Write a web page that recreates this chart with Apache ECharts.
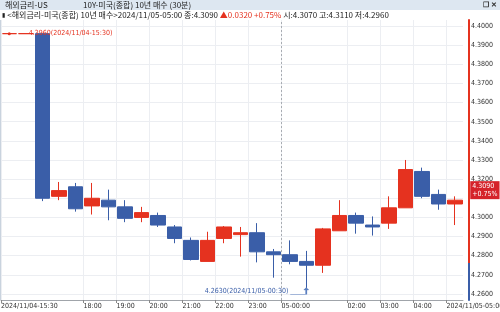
<!DOCTYPE html>
<html><head><meta charset="utf-8">
<script src="https://cdn.jsdelivr.net/npm/echarts@6/dist/echarts.min.js"></script>
<style>html,body{margin:0;padding:0;background:#fff}#c{width:500px;height:312px}</style>
</head><body><div id="c"></div>
<script>
// ---- data ----
const times = ['15:30','16:00','16:30','17:00','17:30','18:00','18:30','19:00','19:30','20:00','20:30','21:00','21:30','22:00','22:30','23:00','23:30','00:00','00:30','01:00','01:30','02:00','02:30','03:00','03:30','04:00','04:30','05:00'];
const days = ['2024/11/04','2024/11/05'];
const tickLabels = ['2024/11/04-15:30','','','','','18:00','','19:00','','20:00','','21:00','','22:00','','23:00','','05-00:00','','','','02:00','','03:00','','04:00','','2024/11/05-05:00'];
const open  = [4.3960,4.3960,4.3960,4.3110,4.3160,4.3060,4.3090,4.3055,4.3000,4.3010,4.2950,4.2880,4.2770,4.2890,4.2910,4.2920,4.2820,4.2805,4.2770,4.2750,4.2930,4.3010,4.2960,4.2970,4.3050,4.3240,4.3120,4.3070];
const close = [4.3960,4.3960,4.3100,4.3140,4.3045,4.3100,4.3055,4.2995,4.3025,4.2960,4.2890,4.2780,4.2880,4.2950,4.2920,4.2820,4.2805,4.2770,4.2750,4.2940,4.3010,4.2970,4.2950,4.3050,4.3250,4.3110,4.3070,4.3090];
const low   = [4.3960,4.3960,4.3085,4.3090,4.3030,4.3015,4.2985,4.2975,4.2975,4.2950,4.2865,4.2775,4.2770,4.2865,4.2795,4.2765,4.2685,4.2755,4.2630,4.2710,4.2930,4.2915,4.2905,4.2940,4.3050,4.3100,4.3040,4.2960];
const high  = [4.3960,4.3960,4.3960,4.3185,4.3180,4.3180,4.3145,4.3090,4.3055,4.3025,4.2960,4.2895,4.2925,4.2955,4.2950,4.2970,4.2835,4.2880,4.2825,4.2945,4.3090,4.3025,4.3005,4.3110,4.3300,4.3260,4.3145,4.3110];
const prevClose = 4.2770;
const yTicks = [4.26,4.27,4.28,4.29,4.30,4.31,4.32,4.33,4.34,4.35,4.36,4.37,4.38,4.39,4.40];

// ---- derived ----
const UP = '#e5321f', DOWN = '#3a5ea8';
const dayIdx = times.indexOf('00:00');
const fullTime = i => (i < dayIdx ? days[0] : days[1]) + '-' + times[i];
const candles = times.map((t,i)=>[open[i], close[i], low[i], high[i]]);
const last = times.length - 1;
const hiVal = Math.max(...high), hiIdx = high.indexOf(hiVal);
const loVal = Math.min(...low), loIdx = low.indexOf(loVal);
const chg = close[last] - prevClose;
const pct = chg / prevClose * 100;
const tickPos = tickLabels.map((t,i)=>t?i:-1).filter(i=>i>=0);
const yLabelVals = yTicks.filter(v => Math.abs(v - close[last]) > 0.005);
const Y_MIN = 4.25684, Y_MAX = 4.40313;
const split = (Y_MAX - prevClose) / (Y_MAX - Y_MIN);
const NUM = "'Liberation Sans Narrow','DejaVu Sans Condensed','Liberation Sans',sans-serif";
const KR = "'Noto Sans CJK KR','Noto Sans',sans-serif";

const chart = echarts.init(document.getElementById('c'), null, {renderer:'canvas'});
chart.setOption({
  animation:false,
  backgroundColor:'#fff',
  graphic:[
    {type:'rect', left:0, top:0, shape:{width:500,height:10}, style:{fill:'#dde7f1'}, z:-1},
    {type:'rect', left:0, top:20, shape:{width:1,height:280}, style:{fill:'#c9d3de'}, z:-1}
  ],
  title:[
    {text:'해외금리-US', left:5, top:0, padding:0, textStyle:{fontSize:8, fontWeight:'normal', color:'#222', fontFamily:KR, lineHeight:10}},
    {text:'10Y-미국(종합) 10년 매수 (30분)', left:83, top:0, padding:0, textStyle:{fontSize:8, fontWeight:'normal', color:'#222', fontFamily:KR, lineHeight:10}},
    {text:'❐ ✕', right:3, top:0, padding:0, textStyle:{fontSize:7, fontWeight:'bold', color:'#333', lineHeight:10}},
    {text:'{b|▮} {t|<해외금리-미국(종합) 10년 매수>' + fullTime(last) + ' 종:' + close[last].toFixed(4) + ' }{r|▲' + chg.toFixed(4) + ' +' + pct.toFixed(2) + '%}{t| 시:' + open[last].toFixed(4) + ' 고:' + high[last].toFixed(4) + ' 저:' + low[last].toFixed(4) + '}',
     left:2, top:10, padding:0,
     textStyle:{fontSize:8, fontWeight:'normal', lineHeight:10,
       rich:{b:{fontSize:6,color:'#222',fontFamily:KR}, t:{fontSize:8,color:'#222',fontFamily:KR}, r:{fontSize:8,color:UP,fontFamily:KR}}}}
  ],
  grid:{left:1, right:37, top:20, bottom:12, containLabel:false, outerBoundsMode:'none'},
  xAxis:[
    {type:'category', data:times, boundaryGap:true, show:false},
    {type:'value', min:0, max:times.length, position:'bottom',
     axisLine:{show:true, onZero:false, lineStyle:{color:'#a0a4aa', width:1}},
     axisTick:{show:true, customValues:tickPos, length:3, lineStyle:{color:'#888'}},
     axisLabel:{customValues:tickPos, formatter:v=>tickLabels[v]||'', align:'left', margin:3, fontSize:7, color:'#333', fontFamily:NUM, hideOverlap:false},
     splitLine:{show:true, lineStyle:{color:'#eceef2', width:1}}}
  ],
  yAxis:{type:'value', position:'right', offset:6, min:Y_MIN, max:Y_MAX,
    axisLine:{show:true, onZero:false, lineStyle:{width:2, color:{type:'linear',x:0,y:0,x2:0,y2:1,colorStops:[
      {offset:0,color:UP},{offset:split,color:UP},{offset:split,color:DOWN},{offset:1,color:DOWN}]}}},
    axisTick:{show:false, customValues:yTicks},
    axisLabel:{customValues:yLabelVals, formatter:v=>v.toFixed(4), margin:2, fontSize:7, color:'#333', fontFamily:NUM},
    splitLine:{show:true, lineStyle:{color:'#eceef2', width:1}}},
  series:[
    {type:'candlestick', xAxisIndex:0, yAxisIndex:0, data:candles, barWidth:15,
     itemStyle:{color:UP, color0:DOWN, borderColor:UP, borderColor0:DOWN, borderWidth:1},
     markPoint:{silent:true, animation:false, data:[
       {coord:[times[hiIdx], hiVal], symbol:'circle', symbolSize:3, itemStyle:{color:UP},
        label:{show:true, position:'right', distance:18, color:UP, fontSize:7, fontFamily:NUM,
          formatter: hiVal.toFixed(4) + '(' + fullTime(hiIdx) + ')'}},
       {coord:[times[loIdx], loVal], symbol:'path://M16,0 L16,6 L0,6 M14,2 L16,0 L18,2', symbolSize:[18,6], symbolKeepAspect:false,
        symbolOffset:[-7,3], itemStyle:{color:'transparent', borderColor:'#5b7fc0', borderWidth:1},
        label:{show:true, position:'left', distance:1, color:'#3a5ea8', fontSize:7, fontFamily:NUM,
          formatter: loVal.toFixed(4) + '(' + fullTime(loIdx) + ')'}},
       {coord:[times[last], close[last]], symbol:'rect', symbolSize:1, itemStyle:{color:'transparent'},
        label:{show:true, position:'right', distance:15, offset:[0,-10], formatter: close[last].toFixed(4) + '\n+' + pct.toFixed(2) + '%',
         backgroundColor:'#d5232a', color:'#fff', padding:[1,2,1,2], fontSize:7, lineHeight:8, fontFamily:NUM}}
     ]}
    },
    {type:'line', xAxisIndex:1, yAxisIndex:0, data:[], silent:true,
     markLine:{silent:true, symbol:'none', animation:false, label:{show:false},
       lineStyle:{type:[2,2], color:'#a8acb2', width:1}, data:[{xAxis:dayIdx}]}}
  ]
});
</script></body></html>
